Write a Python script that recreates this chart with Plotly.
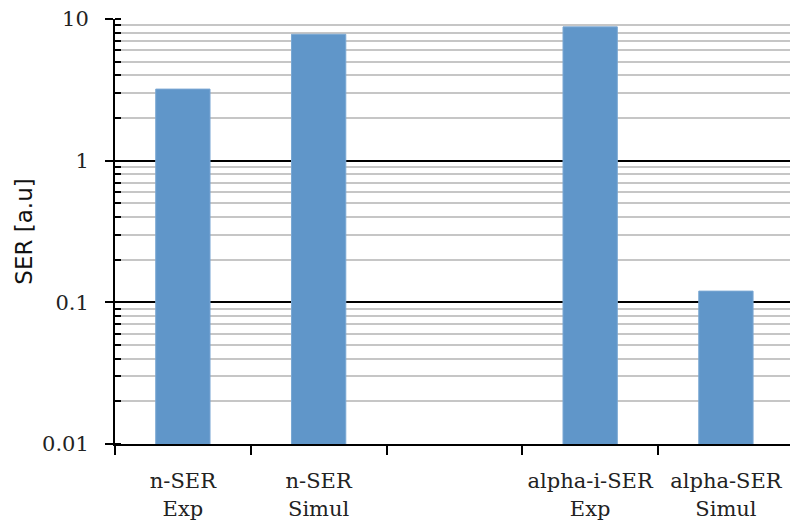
import plotly.graph_objects as go

# Category labels (the third slot is an intentional gap between groups)
categories = ["n-SER<br>Exp", "n-SER<br>Simul", " ", "alpha-i-SER<br>Exp", "alpha-SER<br>Simul"]
ser_values = [3.2, 7.8, None, 8.8, 0.12]

y_tick_vals = [0.01, 0.1, 1, 10]
y_tick_text = ["0.01", "0.1", "1", "10"]

fig = go.Figure()
fig.add_trace(go.Bar(
    x=categories,
    y=ser_values,
    width=0.4,
    marker=dict(color="#6096C9", line=dict(color="#7AA7D3", width=1)),
))

serif = "DejaVu Serif"

fig.update_layout(
    width=790, height=524,
    margin=dict(l=115, r=0, t=19, b=80),
    paper_bgcolor="white", plot_bgcolor="white",
    showlegend=False,
    xaxis=dict(
        type="category",
        range=[-0.5, 4.472],
        tickson="boundaries",
        tickangle=0,
        automargin=False,
        ticks="outside", ticklen=9, tickwidth=2, tickcolor="black",
        showline=True, linecolor="black", linewidth=2,
        showgrid=False,
        tickfont=dict(family=serif, size=21, color="#222222"),
        ticklabelstandoff=17,
    ),
    yaxis=dict(
        type="log",
        range=[-2, 1],
        automargin=False,
        tickvals=y_tick_vals, ticktext=y_tick_text,
        ticks="outside", ticklen=8, tickwidth=2, tickcolor="black",
        showline=True, linecolor="black", linewidth=2,
        showgrid=True, gridcolor="black", gridwidth=2,
        tickfont=dict(family=serif, size=21, color="#222222"),
        ticklabelstandoff=12,
        minor=dict(
            dtick="D1",
            showgrid=True, gridcolor="#C6C6C6", gridwidth=2,
            ticks="inside", ticklen=6, tickwidth=2, tickcolor="black",
        ),
        title=dict(text="SER [a.u]", font=dict(family="DejaVu Sans", size=23, color="#111111"),
                   standoff=3),
    ),
)

fig.write_html("out.html")
